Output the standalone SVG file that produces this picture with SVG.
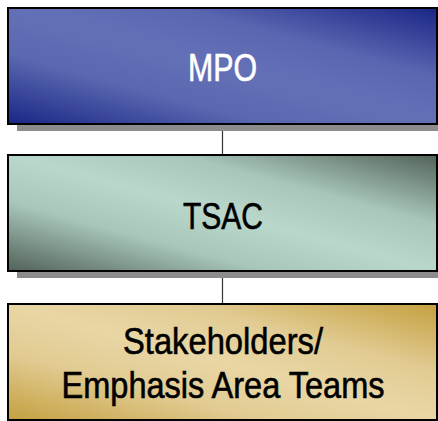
<svg xmlns="http://www.w3.org/2000/svg" width="438" height="421" viewBox="0 0 438 421">
<defs>
<linearGradient id="gBlue" x1="0" y1="1" x2="1" y2="0">
<stop offset="0" stop-color="#1a2686"/><stop offset="0.3" stop-color="#5a68b0"/><stop offset="0.5" stop-color="#6470b6"/><stop offset="0.7" stop-color="#5a66b0"/><stop offset="1" stop-color="#1a2686"/>
</linearGradient>
<linearGradient id="gGreen" x1="0" y1="1" x2="1" y2="0">
<stop offset="0" stop-color="#526258"/><stop offset="0.3" stop-color="#a8c6ba"/><stop offset="0.5" stop-color="#b9d7cb"/><stop offset="0.7" stop-color="#a8c6ba"/><stop offset="1" stop-color="#526258"/>
</linearGradient>
<linearGradient id="gGold" x1="0" y1="1" x2="1" y2="0">
<stop offset="0" stop-color="#c4a040"/><stop offset="0.3" stop-color="#e2cc94"/><stop offset="0.5" stop-color="#e8d6a4"/><stop offset="0.7" stop-color="#e2cc94"/><stop offset="1" stop-color="#c4a040"/>
</linearGradient>
</defs>
<style>
.shadow{fill:#8c8c8c}
.box{stroke:#000;stroke-width:2}
.lbl{font-family:"Liberation Sans Narrow","Arial Narrow","Liberation Sans",sans-serif;text-anchor:middle;stroke-width:0.6}
.w{fill:#fff;stroke:#fff}
.k{fill:#000;stroke:#000}
.conn{stroke:#333;stroke-width:1.2;fill:none}
</style>
<g id="connectors">
<line class="conn" x1="222.5" y1="125" x2="222.5" y2="155"/>
<line class="conn" x1="222.5" y1="271" x2="222.5" y2="304"/>
</g>
<g id="mpo">
<rect class="shadow" x="17" y="15" width="425" height="116"/>
<rect class="box" x="8" y="8" width="429" height="116" fill="url(#gBlue)"/>
<text class="lbl w" x="222.5" y="81" font-size="38" textLength="69" lengthAdjust="spacingAndGlyphs">MPO</text>
</g>
<g id="tsac">
<rect class="shadow" x="17" y="162" width="425" height="116"/>
<rect class="box" x="8" y="155" width="429" height="116" fill="url(#gGreen)"/>
<text class="lbl k" x="223" y="229" font-size="37" textLength="80" lengthAdjust="spacingAndGlyphs">TSAC</text>
</g>
<g id="stakeholders">
<rect class="box" x="8" y="304" width="429" height="116" fill="url(#gGold)"/>
<text class="lbl k" x="223" y="354" font-size="36" textLength="200" lengthAdjust="spacingAndGlyphs">Stakeholders/</text>
<text class="lbl k" x="223" y="398" font-size="36" textLength="323" lengthAdjust="spacingAndGlyphs">Emphasis Area Teams</text>
</g>
</svg>
